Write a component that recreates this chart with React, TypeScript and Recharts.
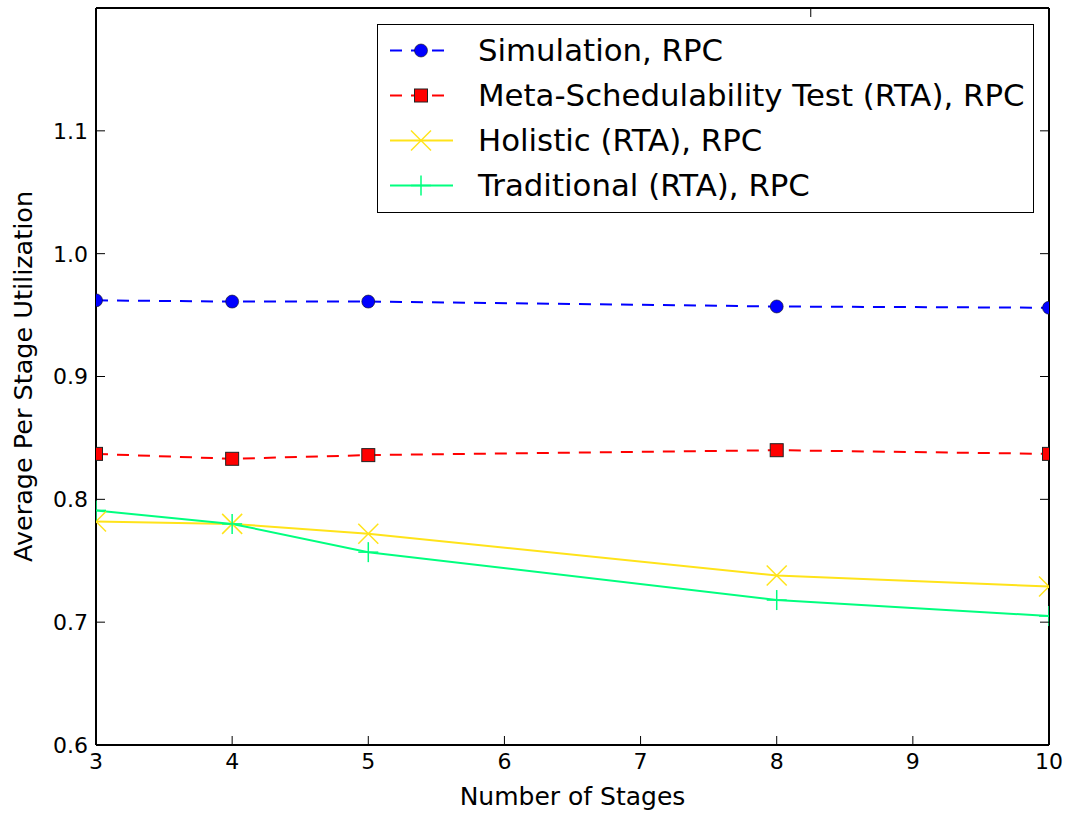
import { Line, LineChart, XAxis, YAxis } from 'recharts';

// number of stages in the pipeline
const stages = [3, 4, 5, 8, 10];

const simulation = [0.962, 0.961, 0.961, 0.957, 0.956];
const metaTest = [0.837, 0.833, 0.836, 0.84, 0.837];
const holistic = [0.782, 0.78, 0.772, 0.738, 0.729];
const traditional = [0.791, 0.78, 0.757, 0.718, 0.705];

const xTicks = [3, 4, 5, 6, 7, 8, 9, 10];
const yTicks = [0.6, 0.7, 0.8, 0.9, 1.0, 1.1];

const FONT = "'DejaVu Sans', sans-serif";
const FRAME = '#000';
const TICK_LEN = 9;

const BLUE = '#0000ff';
const RED = '#ff0000';
const YELLOW = '#ffe31a';
const GREEN = '#00ff7f';
const DASH = '12 9';

const data = stages.map((s, i) => ({
  stages: s,
  simulation: simulation[i],
  metaTest: metaTest[i],
  holistic: holistic[i],
  traditional: traditional[i],
}));

const legendItems = [
  { label: 'Simulation, RPC', color: BLUE, dashed: true, marker: 'circle' },
  { label: 'Meta-Schedulability Test (RTA), RPC', color: RED, dashed: true, marker: 'square' },
  { label: 'Holistic (RTA), RPC', color: YELLOW, dashed: false, marker: 'x' },
  { label: 'Traditional (RTA), RPC', color: GREEN, dashed: false, marker: 'plus' },
];

function Marker({ kind, cx, cy, color }: { kind: string; cx: number; cy: number; color: string }) {
  if (kind === 'circle') {
    return <circle cx={cx} cy={cy} r={6.5} fill={color} stroke="#111" strokeWidth={0.6} />;
  }
  if (kind === 'square') {
    return <rect x={cx - 6.5} y={cy - 6.5} width={13} height={13} fill={color} stroke="#222" strokeWidth={1} />;
  }
  if (kind === 'x') {
    const h = 10;
    return (
      <g stroke={color} strokeWidth={1.5}>
        <line x1={cx - h} y1={cy - h} x2={cx + h} y2={cy + h} />
        <line x1={cx - h} y1={cy + h} x2={cx + h} y2={cy - h} />
      </g>
    );
  }
  const h = 10;
  return (
    <g stroke={color} strokeWidth={1.5}>
      <line x1={cx - h} y1={cy} x2={cx + h} y2={cy} />
      <line x1={cx} y1={cy - h} x2={cx} y2={cy + h} />
    </g>
  );
}

const dotOf = (kind: string, color: string) => (p: any) => (
  <Marker key={`${kind}-${p.index}`} kind={kind} cx={p.cx} cy={p.cy} color={color} />
);

const LeftTick = (p: any) => (
  <g>
    <line x1={p.x + 8} x2={p.x + 8 + TICK_LEN} y1={p.y} y2={p.y} stroke={FRAME} strokeWidth={1} />
    <text x={p.x} y={p.y} dy="0.36em" textAnchor="end" fontFamily={FONT} fontSize={22} fill="#000">
      {Number(p.payload.value).toFixed(1)}
    </text>
  </g>
);

const RightTick = (p: any) => (
  <line x1={p.x} x2={p.x - TICK_LEN} y1={p.y} y2={p.y} stroke={FRAME} strokeWidth={1} />
);

const BottomTick = (p: any) => (
  <g>
    <line x1={p.x} x2={p.x} y1={p.y - 4} y2={p.y - 4 - TICK_LEN} stroke={FRAME} strokeWidth={1} />
    <text x={p.x} y={p.y + 20} textAnchor="middle" fontFamily={FONT} fontSize={22} fill="#000">
      {p.payload.value}
    </text>
  </g>
);

const TopTick = (p: any) => (
  <line x1={p.x} x2={p.x} y1={p.y} y2={p.y + TICK_LEN} stroke={FRAME} strokeWidth={1} />
);

function LegendBox() {
  return (
    <div
      style={{
        position: 'absolute',
        left: 377,
        top: 24,
        width: 655,
        height: 184,
        border: '1.5px solid #000',
        background: '#fff',
        paddingTop: 3,
        boxSizing: 'content-box',
        fontFamily: FONT,
        fontSize: 30.8,
        color: '#000',
      }}
    >
      {legendItems.map((it) => (
        <div key={it.label} style={{ height: 45, display: 'flex', alignItems: 'center' }}>
          <svg width={100} height={45} style={{ flex: 'none' }}>
            <line
              x1={12}
              x2={75}
              y1={22.5}
              y2={22.5}
              stroke={it.color}
              strokeWidth={2}
              strokeDasharray={it.dashed ? DASH : undefined}
            />
            <Marker kind={it.marker} cx={43} cy={22.5} color={it.color} />
          </svg>
          <span style={{ whiteSpace: 'nowrap', lineHeight: '45px' }}>{it.label}</span>
        </div>
      ))}
    </div>
  );
}

export default function App() {
  return (
    <div style={{ position: 'absolute', left: 0, top: 0, width: 1070, height: 818, background: '#fff' }}>
      <LineChart
        width={1070}
        height={818}
        data={data}
        margin={{ top: 7, right: 20, bottom: 0, left: 0 }}
      >
        <XAxis
          dataKey="stages"
          type="number"
          domain={[3, 10]}
          ticks={xTicks}
          interval={0}
          allowDataOverflow
          height={73}
          tickSize={0}
          tickMargin={4}
          tickLine={false}
          tick={BottomTick}
          axisLine={{ stroke: FRAME, strokeWidth: 2 }}
          label={{
            value: 'Number of Stages',
            position: 'insideBottom',
            offset: 13,
            style: { fontFamily: FONT, fontSize: 25, fill: '#000' },
          }}
        />
        <XAxis
          xAxisId="top"
          orientation="top"
          type="number"
          domain={[3, 10]}
          ticks={xTicks}
          interval={0}
          allowDataOverflow
          height={1}
          tickSize={0}
          tickMargin={0}
          tickLine={false}
          tick={TopTick}
          axisLine={{ stroke: FRAME, strokeWidth: 2 }}
        />
        <YAxis
          type="number"
          domain={[0.6, 1.2]}
          ticks={yTicks}
          interval={0}
          allowDataOverflow
          width={96}
          tickSize={0}
          tickMargin={8}
          tickLine={false}
          tick={LeftTick}
          axisLine={{ stroke: FRAME, strokeWidth: 2 }}
          label={{
            value: 'Average Per Stage Utilization',
            angle: -90,
            position: 'insideLeft',
            offset: 23,
            style: { fontFamily: FONT, fontSize: 25.5, fill: '#000', textAnchor: 'middle' },
          }}
        />
        <YAxis
          yAxisId="right"
          orientation="right"
          type="number"
          domain={[0.6, 1.2]}
          ticks={yTicks}
          interval={0}
          allowDataOverflow
          width={1}
          tickSize={0}
          tickMargin={0}
          tickLine={false}
          tick={RightTick}
          axisLine={{ stroke: FRAME, strokeWidth: 2 }}
        />
        <Line
          dataKey="simulation"
          type="linear"
          stroke={BLUE}
          strokeWidth={2}
          strokeDasharray={DASH}
          dot={dotOf('circle', BLUE)}
          isAnimationActive={false}
        />
        <Line
          dataKey="metaTest"
          type="linear"
          stroke={RED}
          strokeWidth={2}
          strokeDasharray={DASH}
          dot={dotOf('square', RED)}
          isAnimationActive={false}
        />
        <Line
          dataKey="holistic"
          type="linear"
          stroke={YELLOW}
          strokeWidth={2}
          dot={dotOf('x', YELLOW)}
          isAnimationActive={false}
        />
        <Line
          dataKey="traditional"
          type="linear"
          stroke={GREEN}
          strokeWidth={2}
          dot={dotOf('plus', GREEN)}
          isAnimationActive={false}
        />
      </LineChart>
      <LegendBox />
    </div>
  );
}
